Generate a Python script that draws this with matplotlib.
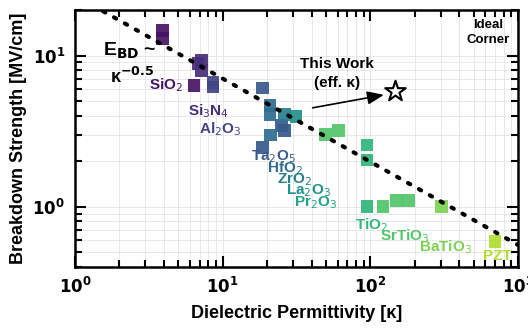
import matplotlib.pyplot as plt
import numpy as np

# materials and measured points (kappa, breakdown field MV/cm)
materials = ['SiO$_2$', 'Si$_3$N$_4$', 'Al$_2$O$_3$', 'Ta$_2$O$_5$', 'HfO$_2$', 'ZrO$_2$',
             'La$_2$O$_3$', 'Pr$_2$O$_3$', 'TiO$_2$', 'SrTiO$_3$', 'BaTiO$_3$', 'PZT']
kappa_pts = {
    0: [3.9, 3.9, 6.4],
    1: [7.2, 6.8, 7.2],
    2: [8.6, 8.6],
    3: [18.7, 18.7, 25.0, 26.4],
    4: [20.9, 20.9, 21.2],
    5: [26.4],
    6: [31.4],
    7: [],
    8: [95, 95, 95],
    9: [50, 61, 122, 151, 182],
    10: [305],
    11: [698],
}
ebd_pts = {
    0: [14.6, 12.9, 6.35],
    1: [9.3, 8.9, 8.0],
    2: [6.6, 6.2],
    3: [6.1, 2.48, 3.46, 3.21],
    4: [4.7, 4.1, 2.98],
    5: [4.1],
    6: [3.97],
    7: [],
    8: [2.56, 2.04, 1.0],
    9: [3.02, 3.21, 1.0, 1.1, 1.1],
    10: [1.0],
    11: [0.59],
}
# label anchor (left, center) in data coords
label_k = [3.17, 5.8, 6.9, 15.5, 19.9, 23.3, 26.8, 30.4, 78.7, 116, 213, 578]
label_e = [6.35, 4.28, 3.26, 2.13, 1.81, 1.51, 1.27, 1.06, 0.76, 0.644, 0.537, 0.476]

this_work = (147, 5.8)

colors = plt.cm.viridis(np.linspace(0.05, 0.88, len(materials)))

fig = plt.figure(figsize=(5.28, 3.35), dpi=100)
ax = fig.add_axes([0.142, 0.203, 0.839, 0.767])
ax.set_xscale('log')
ax.set_yscale('log')
ax.set_xlim(1, 1000)
ax.set_ylim(0.4, 20)

ax.grid(True, which='both', color='#e4e4e4', lw=0.6)
ax.set_axisbelow(True)

# ideal scaling line E ~ kappa^-0.5
kk = np.logspace(np.log10(1.55), 3, 200)
ax.plot(kk, 25 * kk ** -0.55, color='black', lw=3, linestyle=(0, (0.6, 2.4)),
        dash_capstyle='round', zorder=3)

for i, name in enumerate(materials):
    if kappa_pts[i]:
        ax.scatter(kappa_pts[i], ebd_pts[i], marker='s', s=85, color=colors[i],
                   edgecolors='none', alpha=0.92, zorder=2)
    ax.text(label_k[i], label_e[i], name, color=colors[i], fontsize=11,
            fontweight='bold', ha='left', va='center', family='Liberation Sans', zorder=4)

ax.scatter(*this_work, marker='*', s=240, facecolors='white', edgecolors='black',
           linewidths=1.5, zorder=5)
ax.annotate('', xy=(129, 5.54), xytext=(39, 4.48),
            arrowprops=dict(arrowstyle='-|>,head_length=1.0,head_width=0.4',
                            color='black', lw=1.2))
ax.text(59.4, 7.6, 'This Work\n(eff. κ)', ha='center', va='center', fontsize=11,
        fontweight='bold', family='Liberation Sans', linespacing=1.45)
ax.text(1.55, 10.8, 'E$_{\\mathbf{BD}}$ ~', fontsize=14, fontweight='bold',
        family='Liberation Sans', va='center', ha='left')
ax.text(1.72, 7.17, 'κ$^{\\mathbf{-0.5}}$', fontsize=13, fontweight='bold',
        family='Liberation Sans', va='center', ha='left')
ax.text(0.932, 0.965, 'Ideal\nCorner', transform=ax.transAxes, ha='center', va='top',
        fontsize=9.5, fontweight='bold', family='Liberation Sans', linespacing=1.3)

ax.set_xlabel('Dielectric Permittivity [κ]', fontsize=13, fontweight='bold',
              family='Liberation Sans', labelpad=6)
ax.set_ylabel('Breakdown Strength [MV/cm]', fontsize=13, fontweight='bold',
              family='Liberation Sans', labelpad=4)

ax.tick_params(which='both', direction='in', top=True, right=True, width=1.5)
ax.tick_params(which='major', length=8, labelsize=12, pad=7)
ax.tick_params(which='minor', length=5)
ax.set_xticks([1, 10, 100, 1000])
ax.set_xticklabels(['10$^\\mathbf{0}$', '10$^\\mathbf{1}$', '10$^\\mathbf{2}$', '10$^\\mathbf{3}$'])
ax.set_yticks([1, 10])
ax.set_yticklabels(['10$^\\mathbf{0}$', '10$^\\mathbf{1}$'])
ax.yaxis.set_minor_formatter(plt.NullFormatter())
for lab in ax.get_xticklabels() + ax.get_yticklabels():
    lab.set_fontweight('bold')
for sp in ax.spines.values():
    sp.set_linewidth(1.8)

fig.savefig('out.png', dpi=100)
